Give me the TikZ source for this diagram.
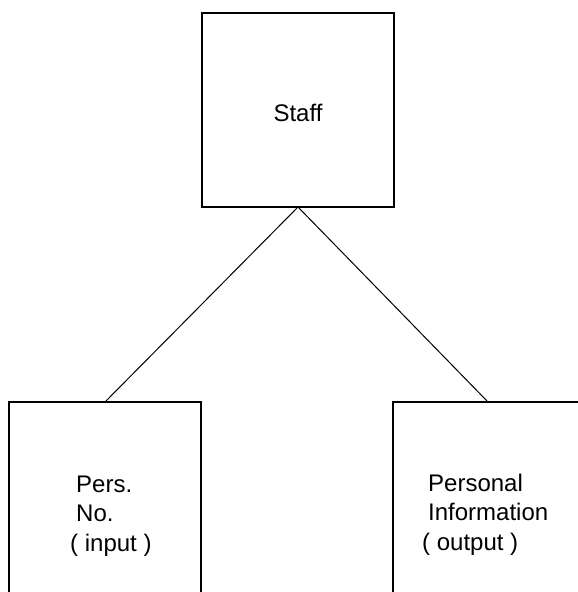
\documentclass[tikz,border=0pt]{standalone}
\usepackage{fontspec}
\setmainfont{Liberation Sans}
\begin{document}
\begin{tikzpicture}[x=1pt,y=-1pt,
  box/.style={draw=black,line width=1.1pt,fill=white,inner sep=0pt,outer sep=0pt},
  lbl/.style={font=\fontsize{24}{29.5}\selectfont,align=left,inner sep=0pt,anchor=base west},
  link/.style={draw=black,line width=1pt}]
\useasboundingbox[fill=white] (0,0) rectangle (578,592);
\node[box,minimum width=192pt,minimum height=194pt] (staff) at (298,110) {};
\node[font=\fontsize{24}{28}\selectfont,inner sep=0pt,anchor=base] (stafft) at (298,121) {Staff};
\node[box,minimum width=192pt,minimum height=260pt,anchor=north west] (persbox) at (9,402) {};
\node[box,minimum width=190pt,minimum height=260pt,anchor=north west] (infobox) at (393,402) {};
\node[lbl] (perst) at (76,551) {Pers.\\No.\\\hspace*{-6pt}( input )};
\node[lbl] (infot) at (428,550) {Personal\\Information\\\hspace*{-6pt}( output )};
\draw[link] (staff.south) -- (persbox.north);
\draw[link] (staff.south) -- (infobox.north);
\end{tikzpicture}
\end{document}
